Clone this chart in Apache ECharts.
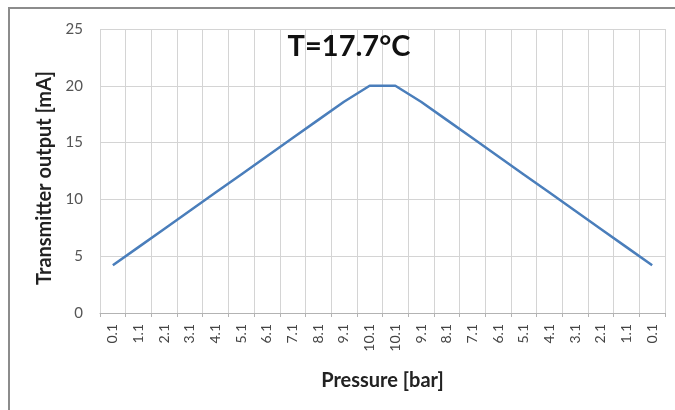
<!DOCTYPE html>
<html>
<head>
<meta charset="utf-8">
<script src="https://cdn.jsdelivr.net/npm/echarts@6/dist/echarts.min.js"></script>
<style>
html,body{margin:0;padding:0;background:#fff;}
#frame{position:absolute;left:8px;top:7px;width:667px;height:403px;border-top:2px solid #8c8c8c;border-left:2px solid #8c8c8c;box-sizing:border-box;}
#chart{position:absolute;left:0;top:0;width:675px;height:410px;}
</style>
</head>
<body>
<div id="frame"></div>
<div id="chart"></div>
<script>
var categories = ['0.1','1.1','2.1','3.1','4.1','5.1','6.1','7.1','8.1','9.1','10.1','10.1','9.1','8.1','7.1','6.1','5.1','4.1','3.1','2.1','1.1','0.1'];
var outputValues = [4.2, 5.8, 7.4, 9.0, 10.6, 12.2, 13.8, 15.4, 17.0, 18.6, 20.0, 20.0, 18.6, 17.0, 15.4, 13.8, 12.2, 10.6, 9.0, 7.4, 5.8, 4.2];
var titleText = 'T=17.7°C';
var xName = 'Pressure [bar]';
var yName = 'Transmitter output [mA]';

var chart = echarts.init(document.getElementById('chart'));
var font = 'Lato, "Open Sans", sans-serif';
chart.setOption({
  backgroundColor: 'transparent',
  animation: false,
  title: {
    text: titleText,
    left: 344, top: 27, textAlign: 'center',
    textStyle: {fontFamily: font, fontWeight: 'bold', fontSize: 29, color: '#111'}
  },
  grid: {left: 100, right: 10, top: 29, bottom: 97, containLabel: false},
  xAxis: {
    type: 'category',
    data: categories,
    boundaryGap: true,
    name: xName,
    nameLocation: 'middle',
    nameGap: 58,
    nameTextStyle: {fontFamily: font, fontWeight: 'bold', fontSize: 20, color: '#222'},
    axisLine: {lineStyle: {color: '#b3b3b3', width: 1}},
    axisTick: {show: true, length: 4, lineStyle: {color: '#b3b3b3'}},
    axisLabel: {rotate: 90, interval: 0, fontFamily: font, fontSize: 14, color: '#444', margin: 11},
    splitLine: {show: true, interval: 0, lineStyle: {color: '#d4d4d4', width: 1}}
  },
  yAxis: {
    type: 'value',
    min: 0, max: 25, interval: 5,
    name: yName,
    nameLocation: 'middle',
    nameGap: 42,
    nameTextStyle: {fontFamily: font, fontWeight: 'bold', fontSize: 20, color: '#222', padding: [0, 14, 0, 0]},
    axisLine: {show: false},
    axisTick: {show: false},
    axisLabel: {fontFamily: font, fontSize: 15, color: '#555', margin: 17},
    splitLine: {show: true, lineStyle: {color: '#d4d4d4', width: 1}}
  },
  series: [{
    type: 'line',
    data: outputValues,
    symbol: 'none',
    lineStyle: {color: '#4a7ebb', width: 2.5},
    itemStyle: {color: '#4a7ebb'}
  }]
});
</script>
</body>
</html>
